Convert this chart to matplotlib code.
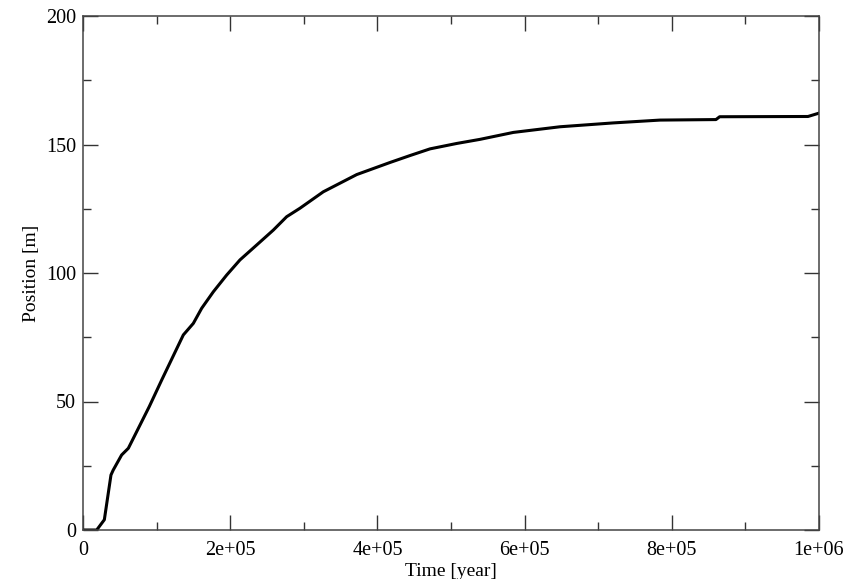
import matplotlib
matplotlib.use("Agg")
import matplotlib.pyplot as plt
from matplotlib.ticker import MultipleLocator

time_year = [0, 18600, 29000, 38000, 41000, 52500, 61600, 90000, 107000, 136300,
             149900, 161300, 177100, 195200, 213300, 236000, 258600, 276700, 294800,
             326500, 371900, 417100, 444300, 471500, 507700, 539400, 584700,
             648100, 720500, 784000, 860000, 865000, 985000, 1000000]
position_m = [0, 0, 4, 21.4, 23.3, 29.2, 31.8, 48, 58.4, 75.9,
              80.4, 86.3, 92.7, 99.2, 105.1, 110.9, 116.7, 121.9, 125.2,
              131.6, 138.3, 143.0, 145.7, 148.3, 150.4, 152.0, 154.7,
              156.9, 158.4, 159.5, 159.7, 160.8, 160.9, 162.2]

xticks = [0, 200000, 400000, 600000, 800000, 1000000]
xticklabels = ["0", "2e+05", "4e+05", "6e+05", "8e+05", "1e+06"]
yticks = [0, 50, 100, 150, 200]

plt.rcParams['font.family'] = ['Liberation Serif', 'DejaVu Serif']

fig = plt.figure(figsize=(8.57, 5.79), dpi=100)
ax = fig.add_axes([83/857, 1 - 530/579, (819 - 83)/857, (530 - 16)/579])
ax.plot(time_year, position_m, color='black', lw=2.2, solid_joinstyle='round')

ax.set_xlim(0, 1000000)
ax.set_ylim(0, 200)
ax.set_xticks(xticks)
ax.set_xticklabels(xticklabels)
ax.set_yticks(yticks)
ax.xaxis.set_minor_locator(MultipleLocator(100000))
ax.yaxis.set_minor_locator(MultipleLocator(25))
ax.tick_params(which='both', direction='in', top=True, right=True,
               labelsize=14.5, color='#333333', width=1.0)
ax.tick_params(axis='x', which='both', pad=8)
ax.tick_params(axis='y', which='both', pad=5)
ax.tick_params(which='major', length=11)
ax.tick_params(which='minor', length=6)
for s in ax.spines.values():
    s.set_color('#444444')
    s.set_linewidth(1.1)

ax.set_xlabel("Time [year]", fontsize=14, labelpad=2)
ax.set_ylabel("Position [m]", fontsize=14, labelpad=4)

fig.savefig("out.png", dpi=100)
